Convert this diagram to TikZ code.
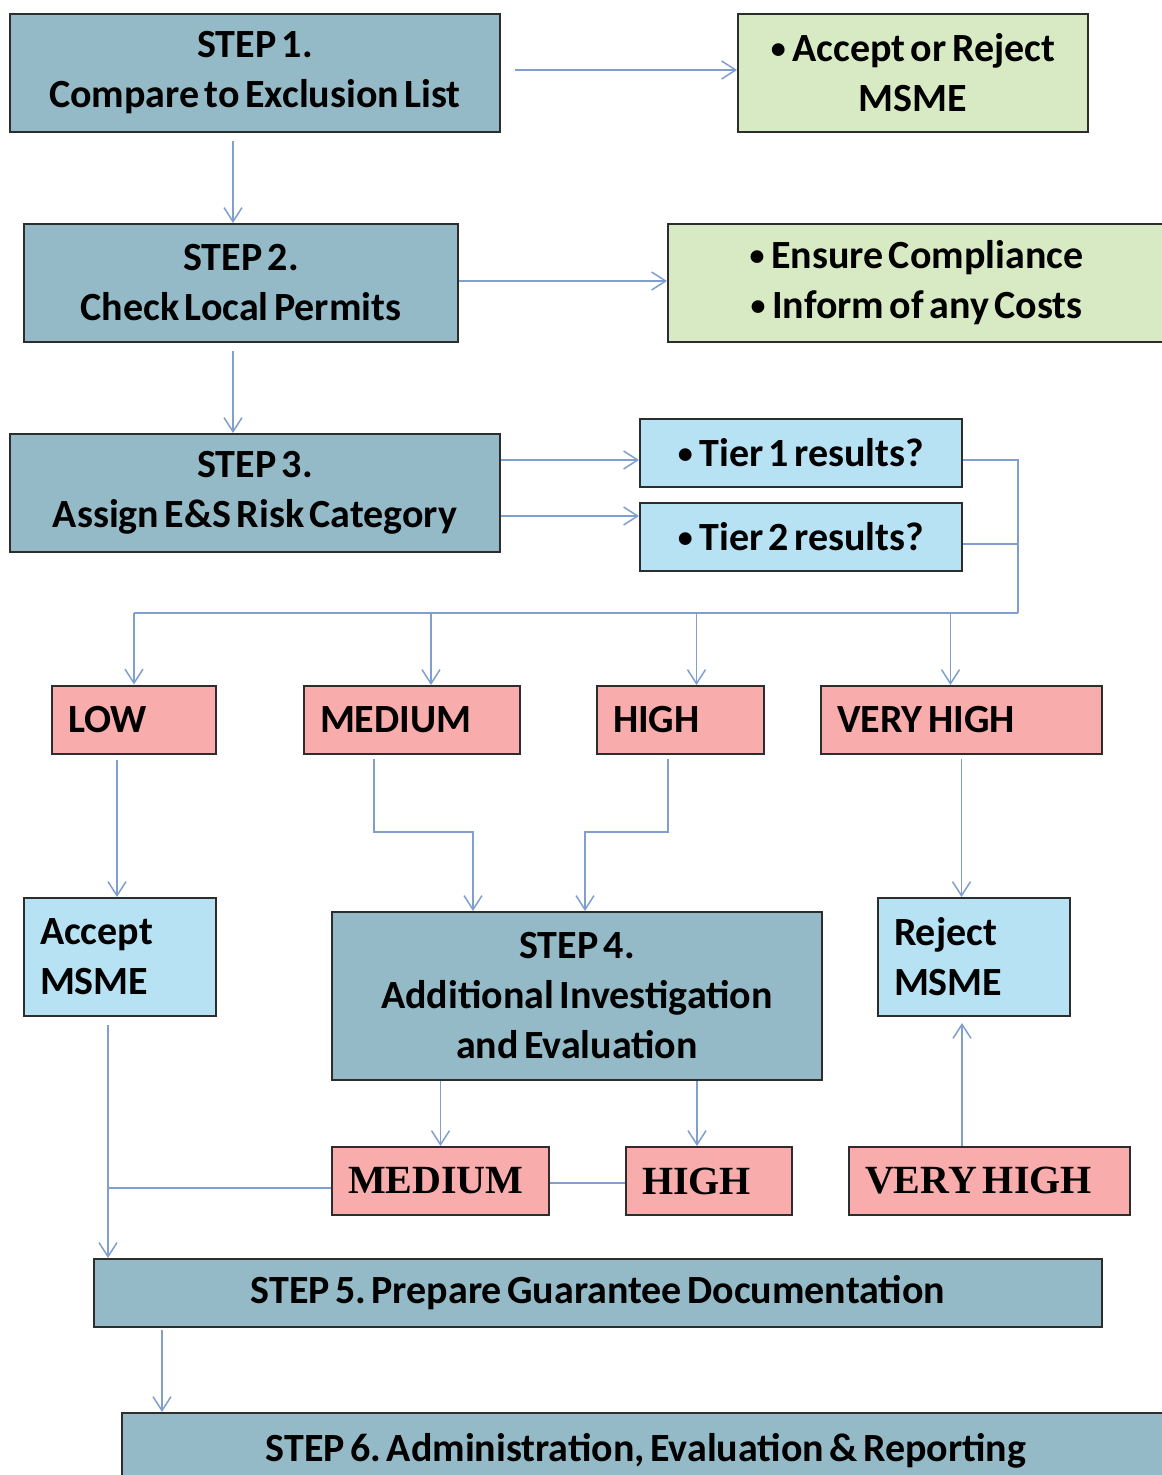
\documentclass[tikz,border=0pt]{standalone}
\usepackage{fontspec}
\setmainfont{Carlito}[WordSpace=0.6]
\newfontfamily\serifbold{Liberation Serif}[WordSpace=0.6]
\usetikzlibrary{arrows.meta}
\frenchspacing

\definecolor{stepteal}{RGB}{147,186,198}
\definecolor{notegreen}{RGB}{216,234,195}
\definecolor{tierblue}{RGB}{183,226,243}
\definecolor{riskpink}{RGB}{248,172,172}
\definecolor{linkblue}{RGB}{128,158,206}
\definecolor{boxedge}{RGB}{45,45,45}

% small bullet as in the slides
\newcommand\dotmark{\raisebox{0.2ex}{\fontsize{15}{15}\selectfont\textbullet}\,}

\tikzset{
  box/.style={draw=boxedge, line width=1pt, inner sep=0pt,
    font=\fontsize{20}{25}\selectfont\bfseries},
  stepbox/.style={box, fill=stepteal, align=flush center},
  notebox/.style={box, fill=notegreen, align=flush center},
  tierbox/.style={box, fill=tierblue, align=flush center},
  riskbox/.style={box, fill=riskpink, align=flush left, inner xsep=8pt, text width=#1,
    minimum height=34pt},
  oldrisk/.style={riskbox=#1, font=\fontsize{20}{25}\selectfont\serifbold\bfseries},
  answerbox/.style={box, fill=tierblue, align=flush left, inner xsep=8pt, text width=80pt,
    minimum height=59pt},
  link/.style={draw=linkblue, line width=0.75pt, -{Straight Barb[length=7pt,width=9pt]}},
  plain/.style={draw=linkblue, line width=0.75pt}
}

\begin{document}
\begin{tikzpicture}[x=0.5pt,y=-0.5pt]
  \useasboundingbox (0,0) rectangle (1161,1475);
  % steps 1 to 3 and their notes
  \node[stepbox, minimum width=245pt, minimum height=59pt] (s1) at (255,73)
    {STEP 1.\\Compare to Exclusion List};
  \node[notebox, minimum width=175pt, minimum height=59pt] (acc) at (913,73)
    {\dotmark Accept or Reject\\MSME};
  \node[stepbox, minimum width=217pt, minimum height=59pt] (s2) at (241,283)
    {STEP 2.\\Check Local Permits};
  \node[notebox, minimum width=248.5pt, minimum height=59pt] (comp) at (916.5,283)
    {\dotmark Ensure Compliance\\\dotmark Inform of any Costs};
  \node[stepbox, minimum width=245pt, minimum height=59pt] (s3) at (255,493)
    {STEP 3.\\Assign E\&S Risk Category};
  \node[tierbox, minimum width=161pt, minimum height=34pt] (t1) at (801,453)
    {\dotmark Tier 1 results?};
  \node[tierbox, minimum width=161pt, minimum height=34pt] (t2) at (801,537)
    {\dotmark Tier 2 results?};
  % risk categories
  \node[riskbox=66pt] (low) at (134,719.5) {LOW};
  \node[riskbox=92pt] (med) at (412,720) {MEDIUM};
  \node[riskbox=67.5pt] (high) at (680.5,720) {HIGH};
  \node[riskbox=124.5pt] (vhigh) at (961.5,720) {VERY HIGH};
  % step 4 and outcomes
  \node[answerbox] (accm) at (120,957) {Accept\\MSME};
  \node[stepbox, minimum width=245pt, minimum height=84pt] (s4) at (577,996)
    {STEP 4.\\Additional Investigation\\and Evaluation};
  \node[answerbox] (rej) at (974,957) {Reject\\MSME};
  \node[oldrisk=92.5pt] (bmed) at (440.5,1181) {MEDIUM};
  \node[oldrisk=67pt] (bhigh) at (709,1181) {HIGH};
  \node[oldrisk=124.5pt] (bvh) at (989.5,1181) {VERY HIGH};
  % steps 5 and 6
  \node[stepbox, minimum width=504pt, minimum height=34pt] (s5) at (598,1293)
    {STEP 5. Prepare Guarantee Documentation};
  \node[stepbox, minimum width=524pt, minimum height=38pt] (s6) at (646,1451)
    {STEP 6. Administration, Evaluation \& Reporting};

  % top flow
  \draw[link, shorten <=7pt] ([yshift=1.5pt]s1.east) -- ([yshift=1.5pt]acc.west);
  \draw[link, shorten <=4pt] ([xshift=-11pt]s1.south) -- ([xshift=-11pt]s1.south |- s2.north);
  \draw[link] ([yshift=1pt]s2.east) -- ([yshift=1pt]comp.west);
  \draw[link, shorten <=4pt] ([xshift=-4pt]s2.south) -- ([xshift=-4pt]s2.south |- s3.north);
  \draw[link] ([yshift=-3.5pt]t1.west -| s3.east) -- ([yshift=-3.5pt]t1.west);
  \draw[link] ([yshift=10.5pt]t2.west -| s3.east) -- ([yshift=10.5pt]t2.west);
  % bus to the categories
  \coordinate (bus) at (1018,613);
  \draw[plain] ([yshift=-3.5pt]t1.east) -| (bus);
  \draw[plain] ([yshift=-3.5pt]t2.east) -- ([yshift=-3.5pt]t2.east -| bus);
  \draw[plain] (bus) -- (bus -| low.north);
  \foreach \n/\dx in {low/0pt, med/9.5pt, high/8pt, vhigh/-5.5pt}
    \draw[link] ([xshift=\dx]\n.north |- bus) -- ([xshift=\dx]\n.north);
  % categories to outcomes
  \coordinate (mid) at (0,832);
  \draw[link, shorten <=2.5pt] ([xshift=-8.5pt]low.south) -- ([xshift=-8.5pt]low.south |- accm.north);
  \draw[link, shorten <=2pt] ([xshift=-19pt]med.south) |- ([xshift=-52pt]s4.north |- mid)
    -- ([xshift=-52pt]s4.north);
  \draw[link, shorten <=2pt] ([xshift=-6.25pt]high.south) |- ([xshift=4pt]s4.north |- mid)
    -- ([xshift=4pt]s4.north);
  \draw[link, shorten <=2pt] (vhigh.south) -- (vhigh.south |- rej.north);
  % step 4 results
  \draw[link] (bmed.north |- s4.south) -- (bmed.north);
  \draw[link] ([xshift=-6pt]bhigh.north |- s4.south) -- ([xshift=-6pt]bhigh.north);
  \draw[link, shorten >=3pt] ([xshift=-13.75pt]bvh.north) -- ([xshift=-13.75pt]bvh.north |- rej.south);
  \draw[plain] ([yshift=-1pt]bmed.east) -- ([yshift=-1pt]bhigh.west);
  \draw[plain] ([yshift=-3.5pt]bmed.west) -- ([xshift=-6pt,yshift=-3.5pt]accm.south |- bmed.west);
  % into steps 5 and 6
  \draw[link, shorten <=4pt] ([xshift=-6pt]accm.south) -- ([xshift=-6pt]accm.south |- s5.north);
  \draw[link, shorten <=1pt] ([xshift=34.5pt]s5.south west) -- ([xshift=34.5pt]s5.south west |- s6.north);
\end{tikzpicture}
\end{document}
